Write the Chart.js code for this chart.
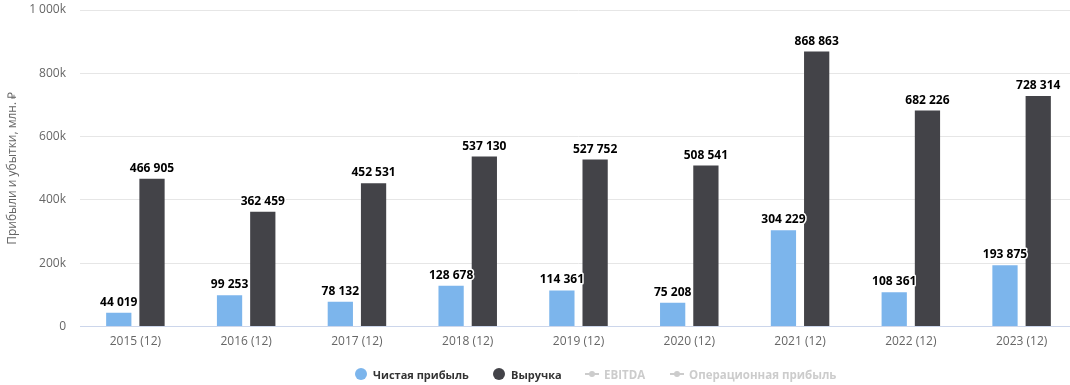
<!DOCTYPE html>
<html>
<head>
<meta charset="utf-8">
<script src="https://cdn.jsdelivr.net/npm/chart.js@4.4.1/dist/chart.umd.min.js"></script>
<style>
    body { margin: 0; overflow: hidden; background: #fff; font-family: "Open Sans", sans-serif; }
    #wrap { position: relative; width: 1077px; height: 385px; }
    #legend { position: absolute; top: 366px; left: 0; width: 1077px; height: 16px;
              font: bold 11px "Open Sans", sans-serif; color: #333; white-space: nowrap; }
    .item { position: absolute; top: 0; display: flex; align-items: center; height: 16px; }
    .dot { width: 12px; height: 12px; border-radius: 50%; margin-right: 6px; }
    .off { color: #cccccc; font-size: 11.5px; }
    .off canvas { margin-right: 5px; }
</style>
</head>
<body>
<div id="wrap">
    <canvas id="chart" width="1077" height="385"></canvas>
    <div id="legend"></div>
</div>
<script>
// Data
const years = ['2015 (12)', '2016 (12)', '2017 (12)', '2018 (12)', '2019 (12)', '2020 (12)', '2021 (12)', '2022 (12)', '2023 (12)'];
const netProfit = [44019, 99253, 78132, 128678, 114361, 75208, 304229, 108361, 193875];
const revenue = [466905, 362459, 452531, 537130, 527752, 508541, 868863, 682226, 728314];
const yTicks = [0, 200000, 400000, 600000, 800000, 1000000];

// legend item x positions
const legendLeft = [355, 493, 585, 670];

// thousands with a space: 466905 -> "466 905"
function fmt(n) {
    return String(n).replace(/\B(?=(\d{3})+(?!\d))/g, ' ');
}

// Value labels above the bars
const barLabels = {
    id: 'barLabels',
    afterDatasetsDraw(chart) {
        const ctx = chart.ctx;
        ctx.save();
        ctx.font = 'bold 12px "Open Sans", sans-serif';
        ctx.textAlign = 'center';
        ctx.textBaseline = 'alphabetic';
        ctx.lineJoin = 'round';
        chart.data.datasets.forEach((ds, i) => {
            const meta = chart.getDatasetMeta(i);
            if (ds.type === 'line' || meta.hidden) return;
            meta.data.forEach((bar, j) => {
                const txt = fmt(ds.data[j]);
                ctx.lineWidth = 3;
                ctx.strokeStyle = '#fff';
                ctx.strokeText(txt, bar.x, bar.y - 7);
                ctx.fillStyle = '#000';
                ctx.fillText(txt, bar.x, bar.y - 7);
            });
        });
        ctx.restore();
    }
};

const chart = new Chart(document.getElementById('chart'), {
    type: 'bar',
    data: {
        labels: years,
        datasets: [
            { label: 'Чистая прибыль', data: netProfit, backgroundColor: '#7cb5ec' },
            { label: 'Выручка', data: revenue, backgroundColor: '#434348' },
            { label: 'EBITDA', type: 'line', data: [], hidden: true, borderColor: '#ccc' },
            { label: 'Операционная прибыль', type: 'line', data: [], hidden: true, borderColor: '#ccc' }
        ]
    },
    options: {
        responsive: false,
        animation: false,
        layout: { padding: { top: 0, bottom: 28, left: 0, right: 0 } },
        datasets: { bar: { categoryPercentage: 0.6, barPercentage: 0.76 } },
        plugins: { legend: { display: false }, tooltip: { enabled: false } },
        scales: {
            x: {
                grid: { display: false, drawTicks: false },
                border: { color: '#ccd6eb' },
                ticks: { color: '#666', padding: 8, font: { size: 12, family: '"Open Sans", sans-serif' } }
            },
            y: {
                min: 0,
                max: 1000000,
                afterBuildTicks: scale => { scale.ticks = yTicks.map(v => ({ value: v })); },
                afterFit: scale => {
                    scale.width = 80;
                    scale.paddingTop = 10;
                },
                grid: { color: '#e6e6e6', drawTicks: false },
                border: { display: false },
                ticks: {
                    color: '#666',
                    padding: 14,
                    font: { size: 12, family: '"Open Sans", sans-serif' },
                    callback: v => v === 0 ? '0' : fmt(v / 1000) + 'k'
                },
                title: {
                    display: true,
                    text: 'Прибыли и убытки, млн. ₽',
                    color: '#666',
                    font: { size: 12, family: '"Open Sans", sans-serif' },
                    padding: { top: 5, bottom: 0 }
                }
            }
        }
    },
    plugins: [barLabels]
});

// Legend (HTML, built from the datasets)
const legend = document.getElementById('legend');
chart.data.datasets.forEach((ds, i) => {
    const item = document.createElement('div');
    item.className = 'item';
    item.style.left = legendLeft[i] + 'px';
    if (ds.type === 'line') {
        item.classList.add('off');
        const icon = document.createElement('canvas');
        icon.width = 14; icon.height = 12;
        const c = icon.getContext('2d');
        c.strokeStyle = '#ccc'; c.lineWidth = 2;
        c.beginPath(); c.moveTo(0, 6); c.lineTo(14, 6); c.stroke();
        c.fillStyle = '#ccc';
        c.beginPath(); c.arc(7, 6, 3, 0, Math.PI * 2); c.fill();
        item.appendChild(icon);
    } else {
        const dot = document.createElement('span');
        dot.className = 'dot';
        dot.style.background = ds.backgroundColor;
        item.appendChild(dot);
    }
    item.appendChild(document.createTextNode(ds.label));
    legend.appendChild(item);
});
</script>
</body>
</html>
